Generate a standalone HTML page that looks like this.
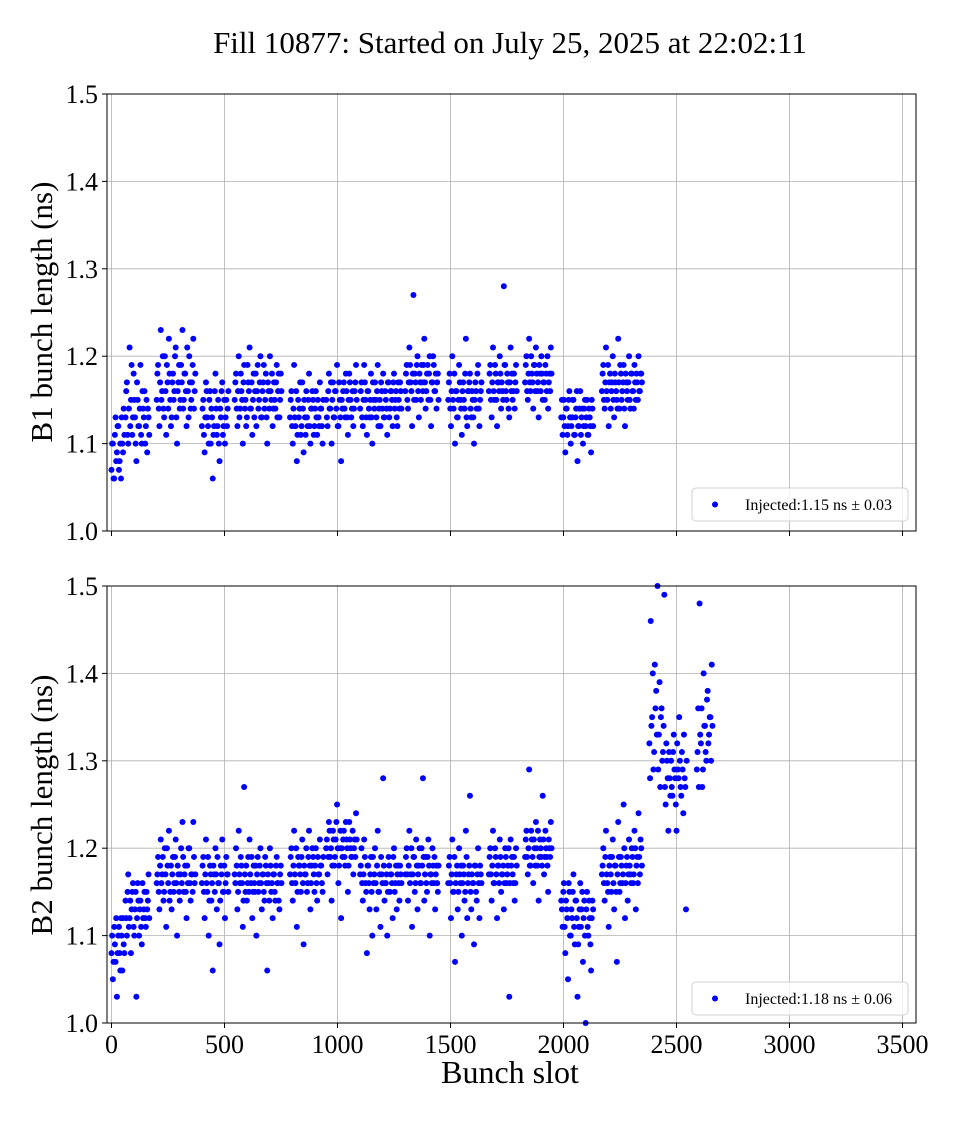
<!DOCTYPE html>
<html><head><meta charset="utf-8"><style>
body{margin:0;background:#fff}
svg text{font-family:"Liberation Serif",serif;fill:#000}
</style></head><body>
<svg id="c" width="960" height="1120" xmlns="http://www.w3.org/2000/svg">
<rect width="960" height="1120" fill="#fff"/>
<text x="510" y="53" font-size="31" text-anchor="middle">Fill 10877: Started on July 25, 2025 at 22:02:11</text>
<text x="510" y="1083" font-size="32" text-anchor="middle">Bunch slot</text>
<text transform="translate(52,312) rotate(-90)" font-size="31" text-anchor="middle">B1 bunch length (ns)</text>
<text transform="translate(52,805) rotate(-90)" font-size="31" text-anchor="middle">B2 bunch length (ns)</text>
</svg>
<script>
const xTicks=[0,500,1000,1500,2000,2500,3000,3500];
const yTicks=[1.0,1.1,1.2,1.3,1.4,1.5];
const slotStep=6;
const b1Starts=[0,62,200,400,545,790,950,1100,1300,1490,1670,1830,1990,2170];
const b1Vals=[
[1.07,1.10,1.06,1.13,1.09,1.12,1.08,1.06,1.10,1.14],
[1.13,1.17,1.10,1.21,1.15,1.11,1.18,1.13,1.08,1.15,1.12,1.19,1.10,1.14,1.16,1.12,1.09,1.13],
[1.15,1.19,1.12,1.23,1.16,1.14,1.20,1.11,1.17,1.22,1.15,1.13,1.18,1.16,1.21,1.10,1.17,1.14,1.19,1.23,1.15,1.18,1.12,1.16,1.20,1.14,1.17,1.22,1.16],
[1.12,1.15,1.09,1.17,1.13,1.10,1.16,1.14,1.06,1.12,1.18,1.11,1.15,1.08,1.13,1.17,1.12,1.10,1.15,1.14],
[1.15,1.18,1.12,1.20,1.14,1.16,1.10,1.19,1.15,1.13,1.17,1.21,1.14,1.11,1.18,1.16,1.12,1.19,1.15,1.20,1.13,1.17,1.14,1.18,1.10,1.16,1.20,1.15,1.12,1.17,1.14,1.19,1.16,1.13,1.18],
[1.13,1.16,1.10,1.19,1.12,1.08,1.15,1.14,1.11,1.17,1.09,1.13,1.16,1.12,1.18,1.10,1.14,1.15,1.12,1.16,1.11,1.13,1.17,1.14,1.10],
[1.15,1.12,1.18,1.14,1.10,1.17,1.13,1.16,1.19,1.12,1.15,1.08,1.14,1.17,1.13,1.16,1.11,1.18,1.15,1.14,1.12,1.16,1.19],
[1.14,1.17,1.12,1.19,1.15,1.11,1.16,1.13,1.18,1.10,1.15,1.17,1.13,1.19,1.14,1.12,1.16,1.18,1.13,1.15,1.11,1.17,1.14,1.16,1.12,1.18,1.15,1.13,1.17,1.14,1.16],
[1.16,1.19,1.14,1.21,1.17,1.12,1.27,1.18,1.15,1.20,1.13,1.17,1.19,1.16,1.22,1.14,1.18,1.15,1.20,1.12,1.17,1.19,1.16,1.14,1.18],
[1.15,1.18,1.12,1.20,1.14,1.10,1.16,1.13,1.19,1.15,1.11,1.17,1.14,1.22,1.12,1.16,1.18,1.13,1.15,1.10,1.17,1.14,1.19,1.12,1.16],
[1.16,1.19,1.13,1.21,1.15,1.18,1.12,1.17,1.20,1.14,1.16,1.28,1.19,1.15,1.17,1.13,1.21,1.18,1.16,1.14,1.19],
[1.17,1.20,1.15,1.22,1.16,1.18,1.14,1.19,1.21,1.16,1.13,1.18,1.20,1.15,1.17,1.19,1.16,1.14,1.18,1.21],
[1.13,1.11,1.15,1.09,1.14,1.12,1.16,1.10,1.13,1.15,1.11,1.14,1.08,1.12,1.16,1.13,1.10,1.14,1.12,1.15,1.11,1.13,1.09,1.14],
[1.16,1.19,1.14,1.21,1.15,1.12,1.18,1.16,1.20,1.13,1.17,1.15,1.22,1.14,1.18,1.16,1.19,1.12,1.17,1.15,1.20,1.14,1.18,1.16,1.19,1.15,1.17,1.20,1.16,1.18]];
const b1ValsB=[
[1.10,1.06,1.11,1.08,1.12,1.07,1.10,1.13,1.09,1.11],
[1.16,1.11,1.14,1.12,1.19,1.13,1.15,1.10,1.17,1.12,1.14,1.11,1.16,1.13,1.10,1.15,1.14,1.11],
[1.18,1.14,1.17,1.15,1.20,1.13,1.16,1.19,1.14,1.18,1.12,1.17,1.15,1.20,1.13,1.16,1.19,1.15,1.17,1.14,1.18,1.16,1.21,1.13,1.17,1.15,1.19,1.14,1.18],
[1.14,1.11,1.13,1.16,1.12,1.15,1.10,1.13,1.11,1.16,1.14,1.12,1.10,1.14,1.16,1.11,1.15,1.13,1.12,1.16],
[1.17,1.14,1.16,1.13,1.18,1.15,1.17,1.14,1.12,1.19,1.16,1.14,1.17,1.15,1.13,1.18,1.16,1.14,1.17,1.13,1.16,1.19,1.15,1.13,1.17,1.14,1.16,1.18,1.14,1.15,1.17,1.13,1.18,1.15,1.16],
[1.15,1.12,1.14,1.13,1.16,1.11,1.13,1.17,1.12,1.14,1.15,1.11,1.13,1.15,1.12,1.14,1.16,1.11,1.14,1.13,1.15,1.12,1.14,1.12,1.15],
[1.13,1.16,1.14,1.17,1.15,1.13,1.16,1.14,1.12,1.17,1.13,1.15,1.16,1.14,1.18,1.13,1.15,1.17,1.13,1.16,1.14,1.17,1.15],
[1.16,1.13,1.15,1.17,1.13,1.16,1.14,1.15,1.13,1.17,1.14,1.15,1.16,1.12,1.15,1.17,1.14,1.13,1.16,1.14,1.17,1.13,1.16,1.15,1.17,1.14,1.16,1.12,1.15,1.17,1.14],
[1.18,1.15,1.17,1.19,1.16,1.18,1.15,1.17,1.19,1.16,1.18,1.15,1.17,1.19,1.17,1.16,1.19,1.18,1.15,1.17,1.20,1.16,1.18,1.17,1.15],
[1.17,1.14,1.16,1.15,1.18,1.16,1.13,1.15,1.17,1.14,1.16,1.15,1.18,1.13,1.16,1.17,1.14,1.16,1.13,1.15,1.16,1.18,1.14,1.15,1.17],
[1.18,1.15,1.17,1.16,1.19,1.15,1.17,1.16,1.18,1.17,1.15,1.19,1.16,1.18,1.14,1.17,1.16,1.15,1.18,1.17,1.16],
[1.19,1.16,1.18,1.17,1.20,1.17,1.19,1.16,1.18,1.17,1.19,1.16,1.18,1.17,1.15,1.18,1.20,1.17,1.16,1.18],
[1.15,1.13,1.12,1.14,1.11,1.15,1.13,1.12,1.15,1.11,1.13,1.16,1.12,1.14,1.11,1.14,1.12,1.15,1.13,1.11,1.14,1.12,1.15,1.12],
[1.18,1.15,1.17,1.16,1.19,1.17,1.14,1.17,1.15,1.18,1.16,1.14,1.17,1.19,1.15,1.17,1.14,1.18,1.16,1.17,1.15,1.18,1.16,1.14,1.17,1.18,1.15,1.16,1.18,1.17]];
const b2Starts=[0,62,200,400,545,790,950,1100,1300,1490,1670,1830,1990,2170,2380,2476,2590];
const b2Vals=[
[1.08,1.05,1.11,1.07,1.03,1.10,1.08,1.12,1.06,1.09],
[1.14,1.10,1.17,1.12,1.08,1.15,1.11,1.13,1.03,1.16,1.10,1.14,1.09,1.12,1.15,1.11,1.13,1.17],
[1.16,1.19,1.13,1.21,1.17,1.14,1.20,1.11,1.18,1.22,1.15,1.13,1.19,1.16,1.21,1.10,1.17,1.14,1.20,1.23,1.15,1.18,1.12,1.16,1.20,1.14,1.17,1.23,1.16],
[1.16,1.19,1.12,1.21,1.15,1.10,1.18,1.14,1.06,1.17,1.20,1.13,1.16,1.09,1.18,1.21,1.15,1.12,1.19,1.17],
[1.17,1.20,1.13,1.22,1.16,1.18,1.11,1.27,1.15,1.14,1.19,1.21,1.16,1.12,1.18,1.15,1.10,1.19,1.16,1.20,1.13,1.17,1.14,1.18,1.06,1.16,1.20,1.15,1.12,1.17,1.14,1.19,1.16,1.13,1.18],
[1.17,1.20,1.14,1.22,1.16,1.11,1.19,1.18,1.15,1.21,1.09,1.17,1.20,1.16,1.22,1.13,1.18,1.19,1.15,1.20,1.14,1.17,1.21,1.18,1.15],
[1.20,1.17,1.23,1.19,1.14,1.22,1.18,1.21,1.25,1.16,1.20,1.12,1.19,1.22,1.18,1.21,1.15,1.23,1.20,1.19,1.17,1.21,1.24],
[1.17,1.20,1.14,1.21,1.16,1.08,1.18,1.13,1.19,1.10,1.16,1.20,1.13,1.22,1.15,1.11,1.17,1.28,1.14,1.16,1.10,1.19,1.15,1.17,1.12,1.20,1.16,1.13,1.18,1.14,1.17],
[1.17,1.20,1.14,1.22,1.17,1.11,1.19,1.15,1.21,1.13,1.18,1.16,1.20,1.28,1.14,1.19,1.15,1.21,1.10,1.17,1.20,1.16,1.13,1.18,1.15],
[1.16,1.19,1.12,1.21,1.15,1.07,1.17,1.13,1.20,1.16,1.10,1.18,1.14,1.22,1.12,1.17,1.26,1.13,1.16,1.09,1.18,1.14,1.20,1.12,1.17],
[1.17,1.20,1.14,1.22,1.16,1.19,1.12,1.18,1.21,1.15,1.17,1.13,1.20,1.16,1.18,1.03,1.21,1.19,1.16,1.14,1.20],
[1.19,1.22,1.17,1.29,1.18,1.21,1.16,1.20,1.23,1.18,1.14,1.21,1.19,1.26,1.17,1.22,1.19,1.15,1.20,1.23],
[1.14,1.11,1.16,1.08,1.13,1.05,1.15,1.10,1.12,1.17,1.09,1.14,1.03,1.11,1.16,1.13,1.07,1.14,1.00,1.15,1.10,1.12,1.06,1.14],
[1.17,1.20,1.14,1.22,1.16,1.11,1.19,1.15,1.21,1.13,1.18,1.07,1.23,1.15,1.19,1.16,1.25,1.12,1.18,1.14,1.21,1.17,1.20,1.16,1.22,1.13,1.19,1.24,1.17,1.20],
[1.32,1.46,1.35,1.29,1.41,1.38,1.50,1.33,1.27,1.36,1.31,1.49,1.25,1.30,1.22,1.28],
[1.30,1.26,1.33,1.28,1.22,1.29,1.35,1.27,1.31,1.24,1.28,1.13],
[1.29,1.36,1.48,1.32,1.27,1.40,1.34,1.30,1.38,1.33,1.35,1.41]];
const b2ValsB=[
[1.10,1.07,1.09,1.12,1.08,1.11,1.06,1.10,1.12,1.08],
[1.12,1.15,1.11,1.14,1.13,1.16,1.10,1.15,1.12,1.14,1.13,1.11,1.16,1.13,1.12,1.15,1.14,1.12],
[1.17,1.15,1.18,1.16,1.19,1.15,1.17,1.20,1.16,1.14,1.18,1.17,1.15,1.19,1.16,1.18,1.15,1.17,1.16,1.19,1.17,1.15,1.18,1.20,1.16,1.17,1.15,1.19,1.17],
[1.18,1.15,1.17,1.16,1.19,1.14,1.17,1.16,1.18,1.15,1.17,1.19,1.16,1.14,1.17,1.15,1.18,1.16,1.17,1.15],
[1.16,1.18,1.15,1.17,1.19,1.16,1.14,1.17,1.18,1.16,1.15,1.17,1.19,1.15,1.16,1.18,1.17,1.15,1.18,1.16,1.17,1.15,1.19,1.16,1.17,1.14,1.18,1.16,1.17,1.15,1.18,1.16,1.14,1.17,1.16],
[1.19,1.16,1.18,1.17,1.20,1.15,1.18,1.17,1.19,1.16,1.18,1.17,1.15,1.19,1.18,1.16,1.20,1.17,1.18,1.16,1.19,1.17,1.18,1.16,1.19],
[1.21,1.19,1.22,1.20,1.18,1.21,1.19,1.23,1.20,1.18,1.22,1.20,1.21,1.19,1.23,1.20,1.18,1.21,1.19,1.22,1.20,1.19,1.21],
[1.18,1.16,1.17,1.19,1.15,1.18,1.16,1.17,1.15,1.19,1.17,1.16,1.18,1.15,1.17,1.19,1.16,1.18,1.16,1.17,1.15,1.18,1.17,1.16,1.19,1.15,1.18,1.17,1.16,1.18,1.16],
[1.19,1.17,1.18,1.16,1.20,1.17,1.19,1.16,1.18,1.17,1.20,1.16,1.18,1.19,1.17,1.16,1.19,1.18,1.17,1.16,1.18,1.19,1.17,1.16,1.18],
[1.18,1.16,1.17,1.15,1.19,1.16,1.18,1.15,1.17,1.18,1.16,1.17,1.15,1.19,1.16,1.18,1.15,1.17,1.16,1.18,1.15,1.17,1.16,1.18,1.16],
[1.19,1.17,1.18,1.16,1.20,1.17,1.18,1.16,1.19,1.17,1.18,1.16,1.19,1.17,1.20,1.16,1.18,1.17,1.19,1.16,1.18],
[1.21,1.19,1.20,1.18,1.22,1.19,1.21,1.18,1.20,1.22,1.19,1.20,1.18,1.21,1.19,1.20,1.18,1.21,1.19,1.20],
[1.13,1.15,1.11,1.14,1.12,1.16,1.10,1.13,1.15,1.11,1.14,1.12,1.09,1.13,1.11,1.15,1.12,1.10,1.13,1.11,1.14,1.09,1.12,1.13],
[1.18,1.16,1.19,1.17,1.15,1.18,1.17,1.19,1.16,1.18,1.15,1.17,1.19,1.16,1.18,1.17,1.20,1.16,1.19,1.17,1.18,1.16,1.19,1.17,1.20,1.18,1.16,1.19,1.21,1.18],
[1.28,1.34,1.40,1.31,1.36,1.33,1.29,1.39,1.35,1.30,1.34,1.27,1.32,1.28,1.31,1.26],
[1.27,1.31,1.29,1.25,1.32,1.28,1.30,1.26,1.29,1.33,1.27,1.30],
[1.31,1.27,1.33,1.36,1.29,1.34,1.31,1.37,1.32,1.35,1.30,1.34]];
const legend1="Injected:1.15 ns \u00b1 0.03";
const legend2="Injected:1.18 ns \u00b1 0.06";

const NS="http://www.w3.org/2000/svg";
const svg=document.getElementById('c');
function mk(t,a,p){const e=document.createElementNS(NS,t);for(const k in a)e.setAttribute(k,a[k]);(p||svg).appendChild(e);return e;}
const L=107,R=916;
const xs=v=>111.5+v*(224.5-111.5)/500;

function panel(top,bot,starts,vals,valsB,showX,leg,legY,name){
  const ys=v=>bot-(v-1.0)*(bot-top)/0.5;
  const g=mk('g',{});
  
  
  xTicks.forEach(t=>{
    const l=mk('line',{x1:xs(t),x2:xs(t),y1:top,y2:bot,stroke:'#b0b0b0','stroke-width':0.8},g);
    
    
    mk('line',{x1:xs(t),x2:xs(t),y1:bot,y2:bot+5,stroke:'#000','stroke-width':1},g);
    if(showX){const tx=mk('text',{x:xs(t),y:bot+30,'font-size':26,'text-anchor':'middle'},g);tx.textContent=t;
      
      }
  });
  yTicks.forEach(t=>{
    const y=ys(t);
    const l=mk('line',{x1:L,x2:R,y1:y,y2:y,stroke:'#b0b0b0','stroke-width':0.8},g);
    
    
    mk('line',{x1:L-5,x2:L,y1:y,y2:y,stroke:'#000','stroke-width':1},g);
    const tx=mk('text',{x:L-9,y:y+9,'font-size':26,'text-anchor':'end'},g);tx.textContent=t.toFixed(1);
    
    
  });
  const dg=mk('g',{fill:'#0000ff'},g);
  
  
  [[vals,0],[valsB,3]].forEach(([set,off])=>{
    starts.forEach((s,i)=>{set[i].forEach((v,j)=>{
      const c=mk('circle',{cx:xs(s+off+j*slotStep),cy:ys(v),r:3},dg);
      
      
    });});
  });
  const fr=mk('rect',{x:L,y:top,width:R-L,height:bot-top,fill:'none',stroke:'#000','stroke-width':1},g);
  
  
  const lg=mk('g',{},g);
  
  
  mk('rect',{x:692,y:legY,width:216,height:33,rx:4,fill:'#fff','fill-opacity':0.8,stroke:'#d0d0d0'},lg);
  mk('circle',{cx:715,cy:legY+16.5,r:3,fill:'#0000ff'},lg);
  const lt=mk('text',{x:745,y:legY+22,'font-size':16},lg);lt.textContent=leg;
}
panel(94,531,b1Starts,b1Vals,b1ValsB,false,legend1,488,'b1');
panel(586,1023,b2Starts,b2Vals,b2ValsB,true,legend2,982,'b2');
</script>
</body></html>
